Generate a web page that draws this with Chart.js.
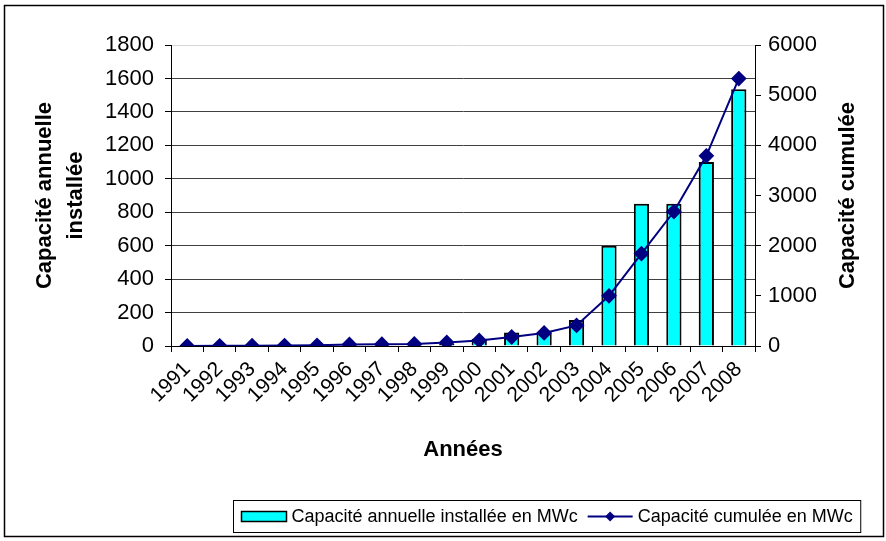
<!DOCTYPE html>
<html>
<head>
<meta charset="utf-8">
<script src="https://cdn.jsdelivr.net/npm/chart.js@4/dist/chart.umd.min.js"></script>
<style>
    html, body { margin: 0; padding: 0; background: #fff; }
    #wrap { width: 886px; height: 541px; }
</style>
</head>
<body>
<div id="wrap"><canvas id="pvChart" width="886" height="541"></canvas></div>
<script>
// values (MWc)
const years = ['1991', '1992', '1993', '1994', '1995', '1996', '1997', '1998', '1999',
    '2000', '2001', '2002', '2003', '2004', '2005', '2006', '2007', '2008'];
const annualInstalled = [1, 2, 2, 3, 4, 10, 12, 12, 15, 44, 80, 80, 155, 600, 850, 850, 1100, 1535];
const cumulative = [2, 4, 6, 9, 13, 30, 35, 40, 70, 110, 180, 260, 410, 1000, 1840, 2680, 3790, 5330];
const leftTicks = { min: 0, max: 1800, step: 200 };
const rightTicks = { min: 0, max: 6000, step: 1000 };

const barLabel = 'Capacité annuelle installée en MWc';
const lineLabel = 'Capacité cumulée en MWc';
const FONT = "'Liberation Sans', Arial, sans-serif";

Chart.defaults.font.family = FONT;
Chart.defaults.color = '#000';

// frame, right-hand title (reads bottom to top) and the boxed legend
const extrasPlugin = {
    id: 'extras',
    beforeDraw(chart) {
        const ctx = chart.ctx;
        ctx.save();
        ctx.fillStyle = '#fff';
        ctx.fillRect(0, 0, chart.width, chart.height);
        ctx.restore();
    },
    afterDraw(chart) {
        const ctx = chart.ctx;
        const area = chart.chartArea;
        ctx.save();

        // outer frame
        ctx.strokeStyle = '#000';
        ctx.lineWidth = 1.5;
        ctx.strokeRect(4.5, 5.5, 879, 531);

        // right axis title
        ctx.fillStyle = '#000';
        ctx.font = 'bold 22px ' + FONT;
        ctx.textAlign = 'center';
        ctx.textBaseline = 'middle';
        ctx.translate(848, (area.top + area.bottom) / 2);
        ctx.rotate(-Math.PI / 2);
        ctx.fillText('Capacité cumulée', 0, 0);
        ctx.restore();

        // legend
        ctx.save();
        ctx.font = '18px ' + FONT;
        ctx.textBaseline = 'middle';
        ctx.textAlign = 'left';
        const w1 = ctx.measureText(barLabel).width;
        const w2 = ctx.measureText(lineLabel).width;
        const pad = 8, sw = 45, gap = 5, mid = 10;
        const boxW = pad + sw + gap + w1 + mid + sw + gap + w2 + pad;
        const boxX = Math.round(547 - boxW / 2) + 0.5;
        const boxY = 500.5, boxH = 32;
        const cy = boxY + boxH / 2;
        ctx.strokeStyle = '#000';
        ctx.lineWidth = 1;
        ctx.strokeRect(boxX, boxY, boxW, boxH);

        let x = boxX + pad;
        ctx.fillStyle = '#00ffff';
        ctx.fillRect(x, cy - 5, sw, 10);
        ctx.lineWidth = 1.5;
        ctx.strokeRect(x, cy - 5, sw, 10);
        x += sw + gap;
        ctx.fillStyle = '#000';
        ctx.fillText(barLabel, x, cy + 1);
        x += w1 + mid;

        ctx.strokeStyle = '#000080';
        ctx.lineWidth = 2;
        ctx.beginPath();
        ctx.moveTo(x, cy);
        ctx.lineTo(x + sw, cy);
        ctx.stroke();
        ctx.fillStyle = '#000080';
        ctx.beginPath();
        const dx = x + sw / 2;
        ctx.moveTo(dx - 5, cy);
        ctx.lineTo(dx, cy - 5);
        ctx.lineTo(dx + 5, cy);
        ctx.lineTo(dx, cy + 5);
        ctx.closePath();
        ctx.fill();
        x += sw + gap;
        ctx.fillStyle = '#000';
        ctx.fillText(lineLabel, x, cy + 1);
        ctx.restore();
    }
};

const plainNumber = v => String(v);

const ctx = document.getElementById('pvChart').getContext('2d');
new Chart(ctx, {
    type: 'bar',
    data: {
        labels: years,
        datasets: [
            {
                type: 'line',
                label: lineLabel,
                data: cumulative,
                yAxisID: 'y1',
                borderColor: '#000080',
                backgroundColor: '#000080',
                borderWidth: 2,
                pointStyle: 'rectRot',
                pointRadius: 6.5,
                pointHoverRadius: 6.5,
                tension: 0,
                order: 0
            },
            {
                type: 'bar',
                label: barLabel,
                data: annualInstalled,
                yAxisID: 'y',
                backgroundColor: '#00ffff',
                borderColor: '#000',
                borderWidth: 2,
                barPercentage: 0.47,
                categoryPercentage: 1,
                order: 1
            }
        ]
    },
    options: {
        responsive: false,
        animation: false,
        layout: { padding: { top: 45, bottom: 78, left: 0, right: 0 } },
        plugins: {
            legend: { display: false },
            tooltip: { enabled: false }
        },
        scales: {
            x: {
                offset: true,
                border: { color: '#000', width: 1 },
                grid: { offset: true, drawOnChartArea: false, drawTicks: true, tickLength: 6, color: '#000' },
                ticks: { font: { size: 21 }, minRotation: 45, maxRotation: 45, autoSkip: false, padding: 5 },
                title: { display: true, text: 'Années', font: { size: 22, weight: 'bold' }, padding: 0 },
                afterFit: scale => { scale.height = 117; }
            },
            y: {
                position: 'left',
                min: leftTicks.min,
                max: leftTicks.max,
                border: { color: '#000', width: 1 },
                grid: {
                    color: c => c.tick && c.tick.value === leftTicks.max ? '#d8d8d8' : '#404040',
                    tickColor: '#000',
                    tickLength: 6
                },
                ticks: { stepSize: leftTicks.step, font: { size: 22 }, padding: 11, callback: plainNumber },
                title: {
                    display: true,
                    text: ['Capacité annuelle', 'installée'],
                    font: { size: 22, weight: 'bold', lineHeight: 1.4 },
                    padding: { top: 30, bottom: 0 }
                },
                afterFit: scale => { scale.width = 171; }
            },
            y1: {
                position: 'right',
                min: rightTicks.min,
                max: rightTicks.max,
                border: { color: '#000', width: 1 },
                grid: { drawOnChartArea: false, tickColor: '#000', tickLength: 6 },
                ticks: { stepSize: rightTicks.step, font: { size: 22 }, padding: 7, callback: plainNumber },
                afterFit: scale => { scale.width = 131; }
            }
        }
    },
    plugins: [extrasPlugin]
});
</script>
</body>
</html>
